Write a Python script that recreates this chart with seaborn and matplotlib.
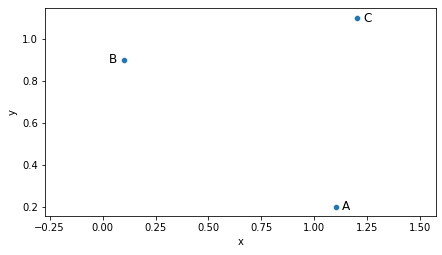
import matplotlib
matplotlib.use("Agg")
import matplotlib.pyplot as plt
import seaborn as sns
import pandas as pd

labels = ["A", "B", "C"]
xs = [1.1, 0.1, 1.2]
ys = [0.2, 0.9, 1.1]
sides = ["right", "left", "right"]

df = pd.DataFrame({"x": xs, "y": ys, "label": labels})

fig, ax = plt.subplots(figsize=(442/72, 255/72), dpi=72)
sns.scatterplot(data=df, x="x", y="y", ax=ax)
for lab, x, y, side in zip(labels, xs, ys, sides):
    if side == "right":
        ax.annotate(lab, (x, y), xytext=(6.5, 0), textcoords="offset points",
                    ha="left", va="center", fontsize=12)
    else:
        ax.annotate(lab, (x, y), xytext=(-6.5, 0), textcoords="offset points",
                    ha="right", va="center", fontsize=12)
ax.set_xlim(-0.272, 1.572)
ax.set_ylim(0.156, 1.148)
fig.subplots_adjust(left=45/442, right=435.5/442, top=1-8/255, bottom=1-216/255)
fig.savefig("out.png", dpi=72)
